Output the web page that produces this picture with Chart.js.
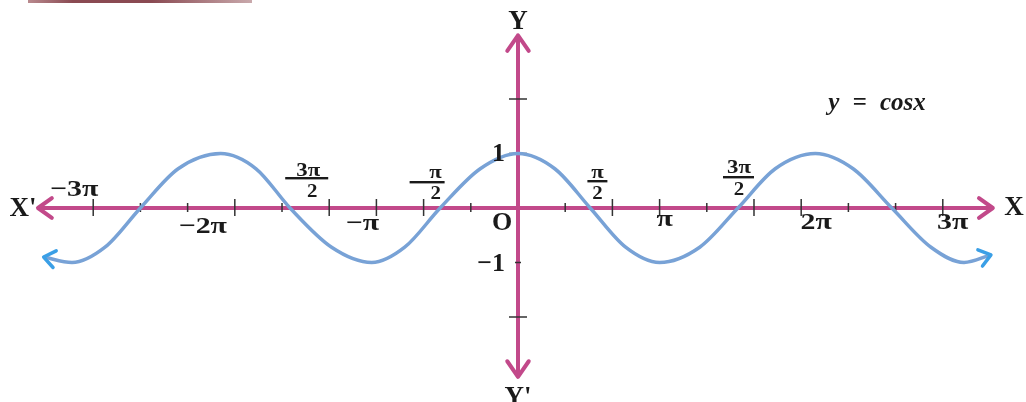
<!DOCTYPE html>
<html>
<head>
<meta charset="utf-8">
<script src="https://cdn.jsdelivr.net/npm/chart.js@4.4.1/dist/chart.umd.min.js"></script>
<style>
  body { margin: 0; background: #fff; }
  #wrap { position: relative; width: 1026px; height: 402px; overflow: hidden; }
  #strip { position: absolute; left: 28px; top: 0; width: 224px; height: 3px;
           background: linear-gradient(90deg, #b98a8e, #8a4a52 20%, #8a4a52 55%, #c9a9ac); }
</style>
</head>
<body>
<div id="wrap">
  <canvas id="c" width="1026" height="402"></canvas>
  <div id="strip"></div>
</div>
<script>
// the curve; x counted in tick steps, y in units
var curveX = [-10.05, -9.45, -8.75, -8.0, -7.2, -6.3, -5.55, -4.83, -3.95, -3.1, -2.4, -1.65, -0.8, 0,
              0.78, 1.53, 2.28, 3.0, 3.85, 4.66, 5.45, 6.3, 7.1, 7.92, 8.75, 9.45, 10.02];
var curveY = [-0.9, -1, -0.72, 0, 0.72, 1, 0.72, 0, -0.72, -1, -0.72, 0, 0.72, 1,
              0.72, 0, -0.72, -1, -0.72, 0, 0.72, 1, 0.72, 0, -0.72, -1, -0.86];

// axes
var xTicks = [-9, -8, -7, -6, -5, -4, -3, -2, -1, 1, 2, 3, 4, 5, 6, 7, 8, 9];
var yTicks = [-2, -1, 1, 2];
var xAxisEnds = [-10.17, 10.06];
var yAxisEnds = [-3.1, 3.17];

// tick labels
var xLabels = ['\u22123\u03c0', '\u22122\u03c0', '\u2212\u03c0', '\u03c0', '2\u03c0', '3\u03c0'];
var xLabelAt = [-9, -6, -3, 3, 6, 9];
var fracNum = ['3\u03c0', '\u03c0', '\u03c0', '3\u03c0'];
var fracDen = ['2', '2', '2', '2'];
var fracAt = [-4, -2, 2, 5];
var yLabels = ['1', '\u22121'];
var yLabelAt = [1, -1];
var axisNames = ["X'", 'X', 'Y', "Y'"];
var equation = 'y = cosx';

var pink = '#c2498a';
var blue = '#78a2d6';
var tipBlue = '#3a9fe6';
var dark = '#333';
var serif = '"Liberation Serif", "Times New Roman", serif';

// pixel nudges for the labels, as placed in the picture
var xLabelOff = [[-19, -18], [-32, 19], [-14, 16], [5, 12], [15, 15], [10, 15]];
var fracPos = [
  { l: -44, r: -1, dx: -21, bar: -30, num: -37, den: -16 },
  { l: -14, r: 21, dx: 12, bar: -26, num: -35, den: -14 },
  { l: -25, r: -5, dx: -15, bar: -27, num: -35, den: -14 },
  { l: -31, r: 0, dx: -15, bar: -31, num: -40, den: -18 }
];

function chevron(ctx, x, y, ang, len, spread, color, w) {
  ctx.save();
  ctx.strokeStyle = color;
  ctx.lineWidth = w;
  ctx.lineCap = 'round';
  ctx.lineJoin = 'round';
  ctx.beginPath();
  ctx.moveTo(x - len * Math.cos(ang - spread), y - len * Math.sin(ang - spread));
  ctx.lineTo(x, y);
  ctx.lineTo(x - len * Math.cos(ang + spread), y - len * Math.sin(ang + spread));
  ctx.stroke();
  ctx.restore();
}

// text stretched sideways, the print face is wider than Times
function wideText(ctx, s, x, y, sx) {
  ctx.save();
  ctx.translate(x, y);
  ctx.scale(sx, 1);
  ctx.fillText(s, 0, 0);
  ctx.restore();
}

var axesPlugin = {
  id: 'axes',
  beforeDatasetsDraw: function(chart) {
    var ctx = chart.ctx, xs = chart.scales.x, ys = chart.scales.y;
    var ox = xs.getPixelForValue(0), oy = ys.getPixelForValue(0);
    ctx.save();
    ctx.strokeStyle = pink;
    ctx.lineWidth = 4;
    ctx.beginPath();
    ctx.moveTo(xs.getPixelForValue(xAxisEnds[0]) + 2, oy);
    ctx.lineTo(xs.getPixelForValue(xAxisEnds[1]) - 2, oy);
    ctx.moveTo(ox, ys.getPixelForValue(yAxisEnds[1]) + 2);
    ctx.lineTo(ox, ys.getPixelForValue(yAxisEnds[0]) - 2);
    ctx.stroke();

    ctx.strokeStyle = dark;
    ctx.lineWidth = 1.5;
    ctx.beginPath();
    xTicks.forEach(function(t) {
      var px = xs.getPixelForValue(t);
      var big = xLabelAt.indexOf(t) >= 0 || fracAt.indexOf(t) >= 0;
      ctx.moveTo(px, oy - (big ? 9 : 5));
      ctx.lineTo(px, oy + (big ? 8 : 4));
    });
    yTicks.forEach(function(t) {
      var py = ys.getPixelForValue(t);
      var hw = t === -1 ? 3 : 9;
      ctx.moveTo(ox - hw, py);
      ctx.lineTo(ox + hw, py);
    });
    ctx.stroke();
    ctx.restore();
  },
  afterDatasetsDraw: function(chart) {
    var ctx = chart.ctx, xs = chart.scales.x, ys = chart.scales.y;
    var ox = xs.getPixelForValue(0), oy = ys.getPixelForValue(0);

    // axis arrowheads
    chevron(ctx, xs.getPixelForValue(xAxisEnds[0]), oy, Math.PI, 17, 0.62, pink, 4);
    chevron(ctx, xs.getPixelForValue(xAxisEnds[1]), oy, 0, 17, 0.62, pink, 4);
    chevron(ctx, ox, ys.getPixelForValue(yAxisEnds[1]), -Math.PI / 2, 19, 0.6, pink, 4);
    chevron(ctx, ox, ys.getPixelForValue(yAxisEnds[0]), Math.PI / 2, 19, 0.6, pink, 4);

    // curve arrowheads, pointing along the last segment
    var n = curveX.length;
    var ends = [[1, 0], [n - 2, n - 1]];
    ends.forEach(function(e) {
      var ax = xs.getPixelForValue(curveX[e[0]]), ay = ys.getPixelForValue(curveY[e[0]]);
      var bx = xs.getPixelForValue(curveX[e[1]]), by = ys.getPixelForValue(curveY[e[1]]);
      var ang = Math.atan2(by - ay, bx - ax);
      chevron(ctx, bx, by, ang, 14, 0.65, tipBlue, 3.5);
    });

    ctx.save();
    ctx.fillStyle = '#1a1a1a';
    ctx.textAlign = 'center';
    ctx.textBaseline = 'middle';

    // pi labels on the x axis
    ctx.font = 'bold 23px ' + serif;
    xLabels.forEach(function(s, i) {
      var px = xs.getPixelForValue(xLabelAt[i]);
      wideText(ctx, s, px + xLabelOff[i][0], oy + xLabelOff[i][1], 1.3);
    });

    // fractions
    ctx.font = 'bold 19px ' + serif;
    fracNum.forEach(function(s, i) {
      var px = xs.getPixelForValue(fracAt[i]), p = fracPos[i];
      wideText(ctx, s, px + p.dx, oy + p.num, 1.2);
      wideText(ctx, fracDen[i], px + p.dx + (i === 0 ? 4 : 0), oy + p.den, 1.1);
      ctx.fillRect(px + p.l, oy + p.bar - 1, p.r - p.l, 2.4);
    });

    // y labels
    ctx.font = 'bold 26px ' + serif;
    ctx.textAlign = 'right';
    yLabels.forEach(function(s, i) {
      var py = ys.getPixelForValue(yLabelAt[i]);
      ctx.fillText(s, ox - 13, py + (yLabelAt[i] > 0 ? 1 : 2));
    });
    ctx.textAlign = 'center';
    ctx.fillText('O', ox - 16, oy + 15);

    // axis names
    ctx.font = 'bold 27px ' + serif;
    ctx.fillText(axisNames[0], 23, oy + 1);
    ctx.fillText(axisNames[1], 1014, oy);
    ctx.fillText(axisNames[2], ox, 22);
    ctx.fillText(axisNames[3], ox, 398);

    // equation
    ctx.font = 'italic bold 25px ' + serif;
    ctx.wordSpacing = '7px';
    ctx.fillText(equation, 877, 104);
    ctx.restore();
  }
};

var pts = curveX.map(function(x, i) { return { x: x, y: curveY[i] }; });

new Chart(document.getElementById('c'), {
  type: 'scatter',
  data: {
    datasets: [{
      data: pts,
      showLine: true,
      borderColor: blue,
      borderWidth: 3.5,
      pointRadius: 0,
      cubicInterpolationMode: 'monotone',
      fill: false
    }]
  },
  options: {
    responsive: false,
    animation: false,
    layout: { padding: 0 },
    plugins: { legend: { display: false }, tooltip: { enabled: false } },
    scales: {
      x: { type: 'linear', display: false, min: -10.975, max: 10.763 },
      y: { type: 'linear', display: false, min: -3.56, max: 3.817 }
    }
  },
  plugins: [axesPlugin]
});
</script>
</body>
</html>
